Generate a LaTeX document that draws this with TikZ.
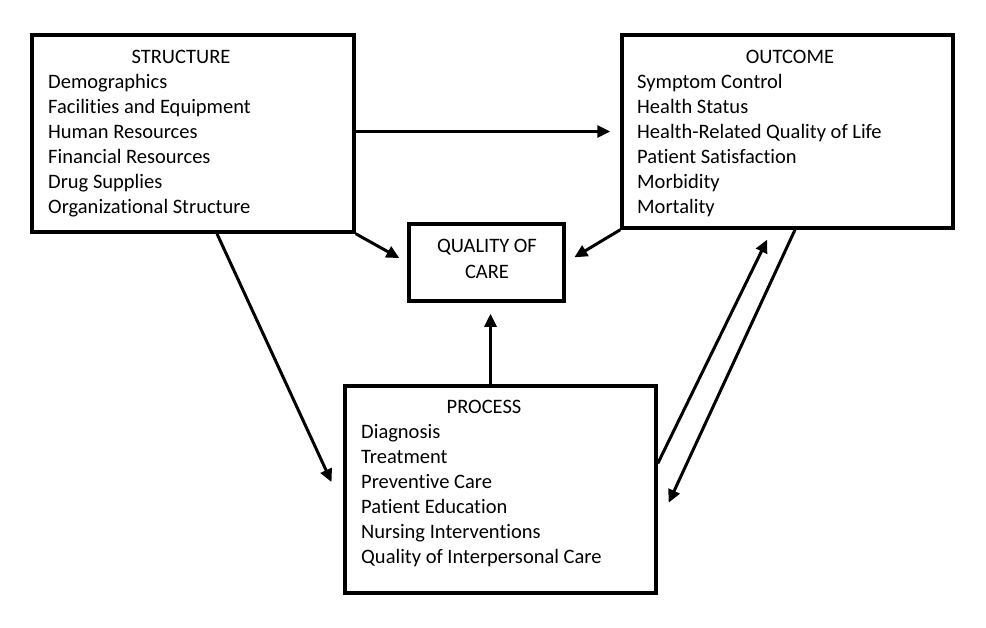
\documentclass[tikz,border=0pt]{standalone}
\usepackage{fontspec}
\setmainfont{Carlito}[Ligatures=NoCommon]
\usetikzlibrary{arrows.meta}

\tikzset{
  box/.style={draw, line width=3.5pt, inner sep=0pt},
  head/.style={anchor=base, inner sep=0pt, font=\fontsize{20.5}{25}\selectfont},
  item/.style={anchor=base west, inner sep=0pt, font=\fontsize{20.5}{25}\selectfont},
  link/.style={line width=3pt, -{Triangle[length=13pt,width=12pt]}},
}

\begin{document}
\begin{tikzpicture}[x=1pt,y=-1pt]
  \useasboundingbox (0,0) rectangle (986,627);

  % the four boxes
  \node[box, minimum width=322pt, minimum height=197pt] (structure) at (193,133.5) {};
  \node[box, minimum width=331pt, minimum height=193pt] (outcome) at (787.5,131.5) {};
  \node[box, minimum width=155pt, minimum height=77pt] (quality) at (486.5,262.5) {};
  \node[box, minimum width=311pt, minimum height=207pt] (process) at (500.5,489.5) {};

  % texts
  \node[head] (structurehead) at (181,63) {STRUCTURE};
  \foreach \t [count=\i] in {Demographics, Facilities and Equipment, Human Resources,
      Financial Resources, Drug Supplies, Organizational Structure}
    \node[item] (s\i) at (48,63+25*\i) {\t};

  \node[head] (outcomehead) at (790,63) {OUTCOME};
  \foreach \t [count=\i] in {Symptom Control, Health Status, Health-Related Quality of Life,
      Patient Satisfaction, Morbidity, Mortality}
    \node[item] (o\i) at (637,63+25*\i) {\t};

  \node[head] (processhead) at (484,413) {PROCESS};
  \foreach \t [count=\i] in {Diagnosis, Treatment, Preventive Care, Patient Education,
      Nursing Interventions, Quality of Interpersonal Care}
    \node[item] (p\i) at (361,413+25*\i) {\t};

  \node[head] (qualityhead) at (487,252) {QUALITY OF};
  \node[head] (qualitycare) at (487,278) {CARE};

  % arrows
  \draw[link, shorten >=10pt] (structure.east |- outcome.west) -- (outcome.west);
  \draw[link, shorten >=9pt] (structure.south east) -- (quality.west);
  \draw[link, shorten >=10pt] (outcome.south west) -- (quality.east);
  \draw[link, shorten >=28pt] ([xshift=24pt]structure.south) -- ([yshift=-18pt]process.west);
  \draw[link, shorten >=11pt] ([xshift=4pt]quality.south |- process.north) -- ([xshift=4pt]quality.south);
  \draw[link, shorten >=11pt] ([yshift=26pt]process.east) -- ([xshift=-15.5pt]outcome.south);
  \draw[link, shorten >=26pt] ([xshift=7.5pt]outcome.south) -- ([yshift=-36.8pt]process.east);
\end{tikzpicture}
\end{document}
